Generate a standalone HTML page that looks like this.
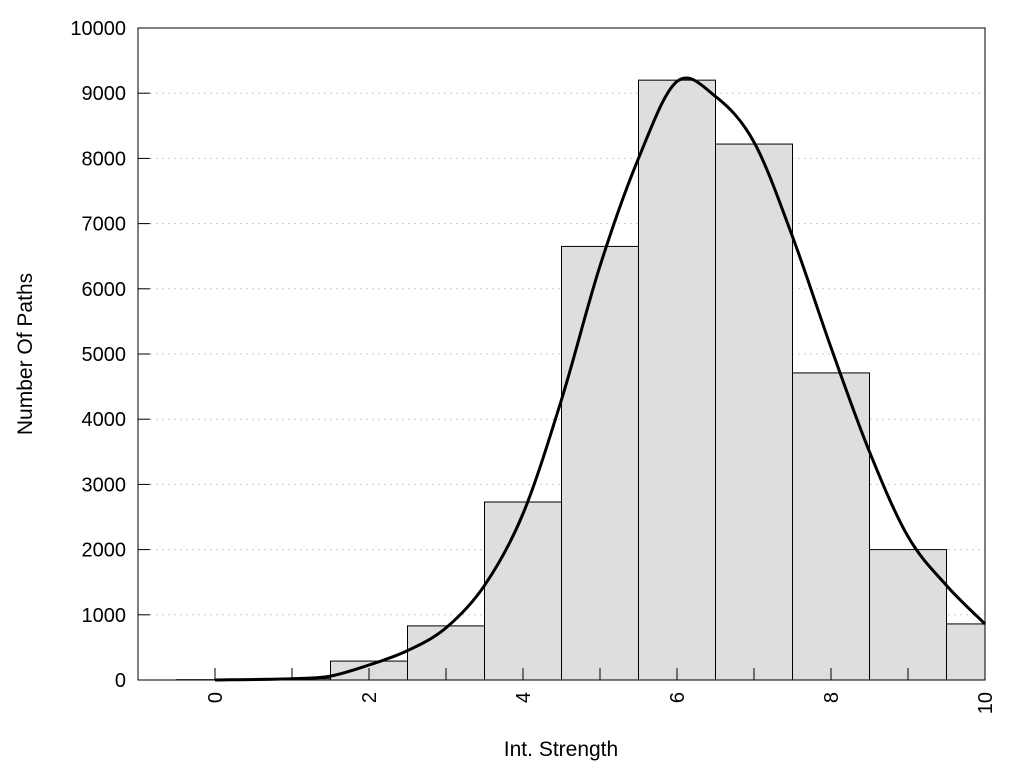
<!DOCTYPE html>
<html><head><meta charset="utf-8"><style>
body{margin:0;background:#fff;}
svg text{font-family:"Liberation Sans",Arial,sans-serif;fill:#000;}
</style></head><body>
<svg id="chart" width="1024" height="768" xmlns="http://www.w3.org/2000/svg">
<g id="grid"></g>
<g id="bars"></g>
<g id="ticks"></g>
<path id="curve" fill="none" stroke="#000" stroke-width="3"/>
<rect x="138" y="28" width="847" height="652" fill="none" stroke="#000" stroke-width="1"/>
<g id="labels"></g>
<text x="561" y="756" font-size="21" text-anchor="middle">Int. Strength</text>
<text transform="translate(32,354) rotate(-90)" font-size="21" text-anchor="middle">Number Of Paths</text>
</svg>
<script>
const binCenters=[0,1,2,3,4,5,6,7,8,9,10];
const binCounts=[5,20,290,830,2730,6650,9200,8220,4710,2000,860];
const curveX=[0,1,1.5,2,2.5,3,3.5,4,4.5,5,5.5,6,6.5,7,7.5,8,8.5,9,9.5,10];
const curveY=[0,20,60,230,450,800,1450,2550,4300,6350,8000,9180,8950,8250,6800,5100,3500,2200,1450,860];
const yTicks=[0,1000,2000,3000,4000,5000,6000,7000,8000,9000,10000];
const xTickLabels=[0,2,4,6,8,10];
const xTicks=[0,1,2,3,4,5,6,7,8,9,10];
const L=138,R=985,T=28,B=680,XMIN=-1,XMAX=10,YMAX=10000;
const sx=v=>L+(v-XMIN)/(XMAX-XMIN)*(R-L);
const sy=v=>B-v/YMAX*(B-T);
const NS="http://www.w3.org/2000/svg";
function mk(tag,parent,attrs){const e=document.createElementNS(NS,tag);for(const k in attrs)e.setAttribute(k,attrs[k]);document.getElementById(parent).appendChild(e);return e;}
yTicks.forEach(v=>{
  if(v>0&&v<YMAX){const g=mk('line','grid',{x1:L,x2:R,y1:sy(v),y2:sy(v),stroke:'#ccc','stroke-dasharray':'2,4'});
  
  }
  const t=mk('line','ticks',{x1:L,x2:L+12,y1:sy(v),y2:sy(v),stroke:'#000'});
  
  
  const lb=mk('text','labels',{x:L-12,y:sy(v)+7,'font-size':20,'text-anchor':'end'});lb.textContent=v;
  
  
});
xTicks.forEach(v=>{
  const t=mk('line','ticks',{x1:sx(v),x2:sx(v),y1:B,y2:B-12,stroke:'#000'});
  
  
});
xTickLabels.forEach(v=>{
  const x=sx(v);
  const lb=mk('text','labels',{transform:`translate(${x+7},${B+12}) rotate(-90)`,'font-size':20,'text-anchor':'end'});lb.textContent=v;
  
  
});
binCenters.forEach((c,i)=>{
  const x0=sx(c-0.5),x1=Math.min(sx(c+0.5),R);
  const r=mk('rect','bars',{x:x0,y:sy(binCounts[i]),width:x1-x0,height:B-sy(binCounts[i]),fill:'#dedede',stroke:'#000','stroke-width':1});
  
  
});
// Catmull-Rom curve
const P=curveX.map((x,i)=>[sx(x),sy(curveY[i])]);
let d=`M${P[0][0]},${P[0][1]}`;
for(let i=0;i<P.length-1;i++){
  const p0=P[Math.max(i-1,0)],p1=P[i],p2=P[i+1],p3=P[Math.min(i+2,P.length-1)];
  const c1=[p1[0]+(p2[0]-p0[0])/6,p1[1]+(p2[1]-p0[1])/6];
  const c2=[p2[0]-(p3[0]-p1[0])/6,p2[1]-(p3[1]-p1[1])/6];
  d+=` C${c1[0]},${c1[1]} ${c2[0]},${c2[1]} ${p2[0]},${p2[1]}`;
}
document.getElementById('curve').setAttribute('d',d);
</script>
</body></html>
